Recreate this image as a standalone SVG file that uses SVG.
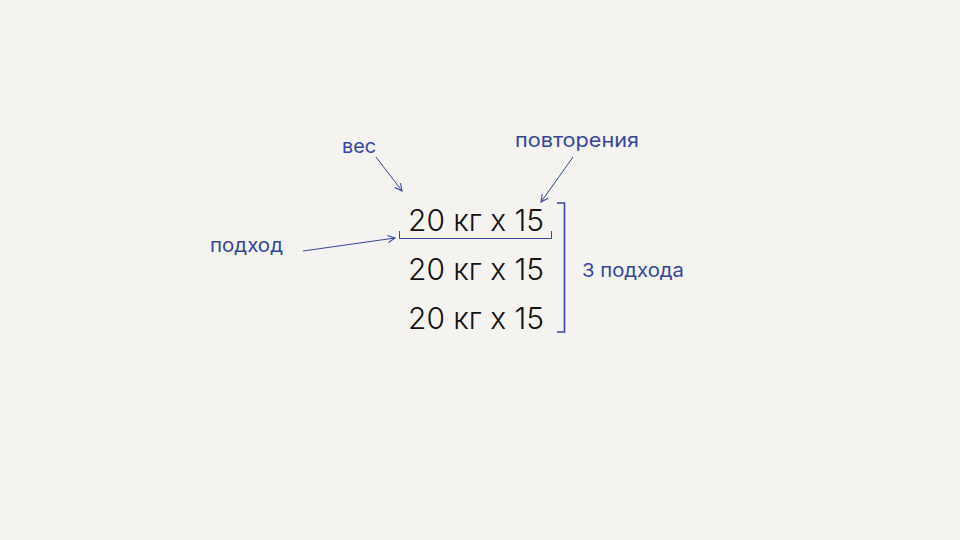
<svg xmlns="http://www.w3.org/2000/svg" width="960" height="540" viewBox="0 0 960 540">
<style>
.lbl{font-family:Inter,"Noto Sans",sans-serif;font-size:19px;font-weight:400;fill:#34469a}
.main{font-family:Inter,"Noto Sans",sans-serif;font-size:30px;font-weight:300;fill:#111111}
.ln{stroke:#34469a;stroke-width:1;fill:none}
.br{stroke:#34469a;stroke-width:1.6;fill:none}
</style>
<defs>
<marker id="ah" viewBox="0 0 10 10" refX="9" refY="5" markerWidth="9" markerHeight="9" markerUnits="userSpaceOnUse" orient="auto">
<polyline points="1,1 9,5 1,9" fill="none" stroke="#34469a" stroke-width="1.2"/>
</marker>
</defs>
<rect width="960" height="540" fill="#f4f3ef"/>
<g id="sets">
<text class="main" x="408" y="231" textLength="136" lengthAdjust="spacingAndGlyphs">20 кг x 15</text>
<text class="main" x="408" y="280" textLength="136" lengthAdjust="spacingAndGlyphs">20 кг x 15</text>
<text class="main" x="408" y="329" textLength="136" lengthAdjust="spacingAndGlyphs">20 кг x 15</text>
</g>
<g id="label-ves"><text class="lbl" x="342" y="153" textLength="34" lengthAdjust="spacingAndGlyphs">вес</text></g>
<g id="label-povtoreniya"><text class="lbl" x="515" y="147" textLength="124" lengthAdjust="spacingAndGlyphs">повторения</text></g>
<g id="label-podkhod"><text class="lbl" x="210" y="252" textLength="73" lengthAdjust="spacingAndGlyphs">подход</text></g>
<g id="label-3podkhoda"><text class="lbl" x="582" y="277" textLength="102" lengthAdjust="spacingAndGlyphs">3 подхода</text></g>
<g id="connectors">
<line class="ln" x1="376" y1="157" x2="402" y2="191" marker-end="url(#ah)"/>
<line class="ln" x1="573" y1="157" x2="541" y2="202" marker-end="url(#ah)"/>
<line class="ln" x1="303" y1="251" x2="395" y2="238" marker-end="url(#ah)"/>
<polyline class="ln" points="399.5,231 399.5,238.5 551.5,238.5 551.5,231"/>
<polyline class="br" points="557,203 564.5,203 564.5,332 557,332"/>
</g>
</svg>
